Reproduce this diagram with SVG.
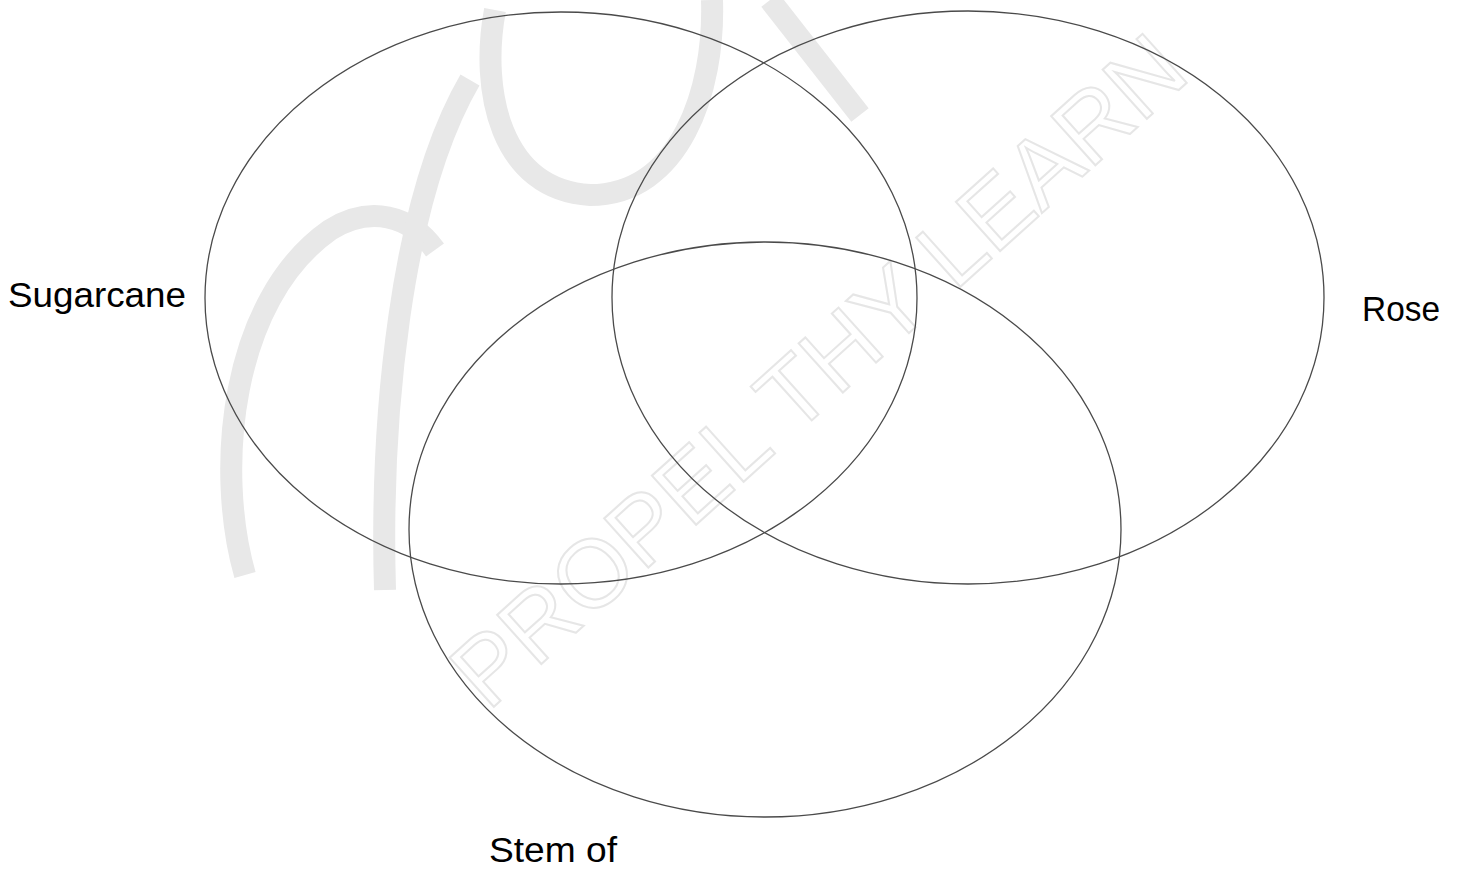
<svg xmlns="http://www.w3.org/2000/svg" width="1465" height="871" viewBox="0 0 1465 871">
<style>
.set{fill:none;stroke:#4a4a4a;stroke-width:1.3}
.lbl{font-family:"Liberation Sans",Arial,sans-serif;font-size:35px;fill:#000}
.wm{fill:none;stroke:#e8e8e8;stroke-width:22;stroke-linecap:butt}
.wmt{font-family:"Liberation Sans",Arial,sans-serif;font-size:96px;fill:none;stroke:#e6e6e6;stroke-width:2}
</style>
<rect width="1465" height="871" fill="#fff"/>
<g id="watermark">
<path class="wm" d="M245 575 C 215 470, 230 300, 330 230 C 370 205, 410 215, 435 250"/>
<path class="wm" d="M385 590 C 380 420, 400 200, 470 80"/>
<path class="wm" d="M495 10 C 480 90, 500 190, 590 195 C 680 195, 715 90, 712 0"/>
<path class="wm" d="M770 0 L 860 115"/>
<text class="wmt" x="488" y="712" transform="rotate(-42 488 712)">PROPEL THY LEARN</text>
</g>
<g id="sugarcane">
<ellipse class="set" cx="561" cy="298" rx="356" ry="286"/>
<text class="lbl" x="8" y="307" textLength="178" lengthAdjust="spacingAndGlyphs">Sugarcane</text>
</g>
<g id="rose">
<ellipse class="set" cx="968" cy="297.5" rx="356" ry="286.5"/>
<text class="lbl" x="1362" y="321" textLength="78" lengthAdjust="spacingAndGlyphs">Rose</text>
</g>
<g id="stem">
<ellipse class="set" cx="765" cy="529.5" rx="356" ry="287.5"/>
<text class="lbl" x="489" y="862" textLength="128" lengthAdjust="spacingAndGlyphs">Stem of</text>
</g>
<g id="connectors"/>
</svg>
